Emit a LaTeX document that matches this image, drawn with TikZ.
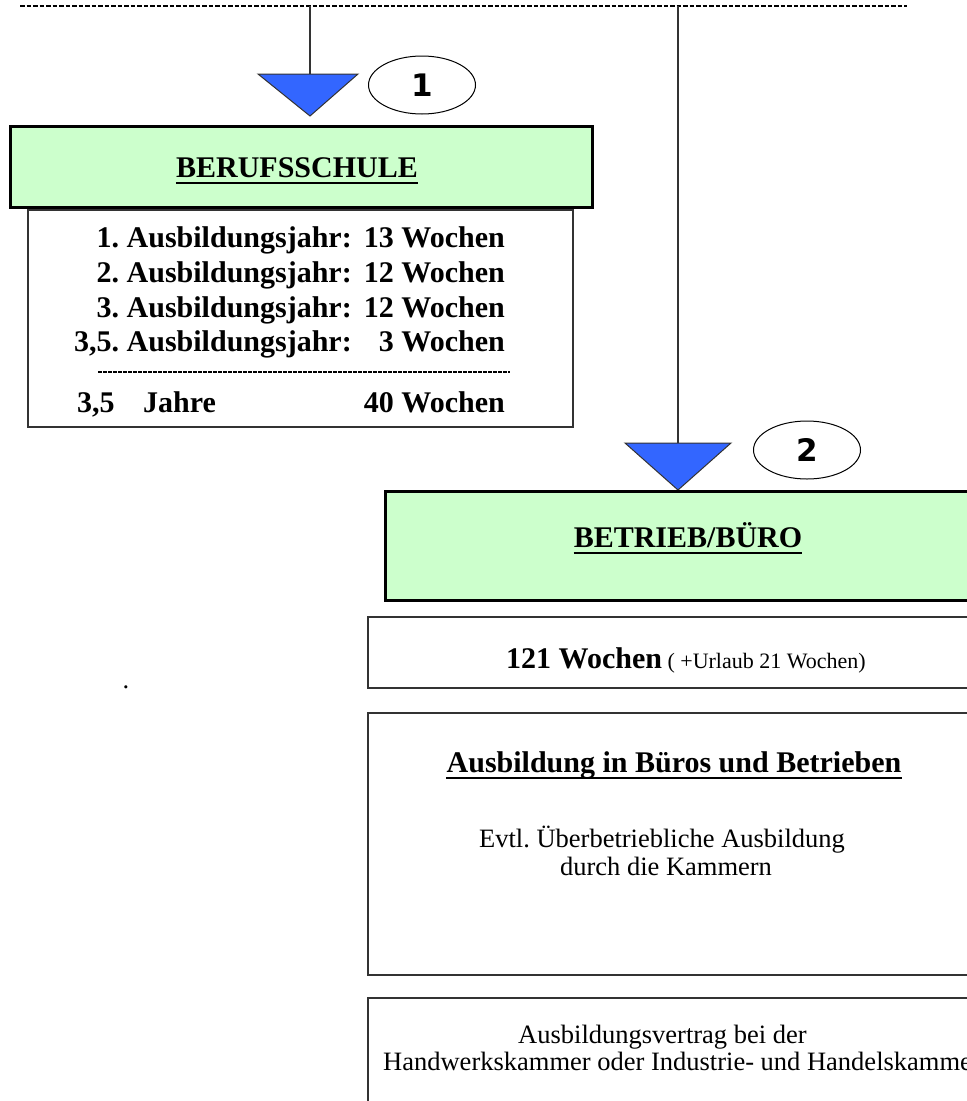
\documentclass[tikz,border=0pt]{standalone}
\usepackage{fontspec}
\setmainfont{Liberation Serif}
\newfontfamily\numfont{DejaVu Sans}
\usetikzlibrary{shapes.geometric}
\definecolor{boxgreen}{HTML}{CCFFCC}
\definecolor{triblue}{HTML}{3366FF}
\definecolor{linegray}{HTML}{333333}
\begin{document}
\frenchspacing
\begin{tikzpicture}[x=1pt,y=-1pt,
  bigb/.style={font=\fontsize{30}{35}\selectfont\bfseries, inner sep=0pt},
  regtxt/.style={font=\fontsize{26.5}{30}\selectfont, inner sep=0pt},
  greenbox/.style={draw=black, line width=3pt, fill=boxgreen},
  whitebox/.style={draw=linegray, line width=1.5pt},
  tri/.style={fill=triblue, draw=linegray, line width=1pt},
  numell/.style={draw=black, line width=1pt, ellipse, minimum width=107pt, minimum height=58pt, inner sep=0pt, font=\fontsize{31}{33}\selectfont\numfont\bfseries},
  conn/.style={draw=linegray, line width=1.5pt},
  ul/.style={line width=1.5pt}]
\useasboundingbox (0,0) rectangle (967,1101);
\clip (0,0) rectangle (967,1101);

% top dashed line
\coordinate (dl) at (20,6);
\coordinate (dr) at (907,6);
\draw[line width=2.8pt, dash pattern=on 4.5pt off 2pt] (dl) -- (dr);

% triangles
\coordinate (s1) at (310,6);
\coordinate (t1) at (310,74);
\fill[tri] (258,74) -- (358,74) -- (310,116) -- cycle;
\draw[conn] (s1) -- (t1);
\node[numell] (e1) at (422,85) {1};

\coordinate (s2) at (678,6);
\coordinate (t2) at (678,443);
\fill[tri] (625,443) -- (731,443) -- (678,490) -- cycle;
\draw[conn] (s2) -- (t2);
\node[numell] (e2) at (807,450) {2};

% BERUFSSCHULE
\draw[greenbox] (10,126) rectangle (592,207);
\node[bigb, anchor=base] (bs) at (297,177) {BERUFSSCHULE};
\draw[ul] ([yshift=-6pt]bs.base west) -- ([yshift=-6pt]bs.base east);

\draw[whitebox] (28,210) rectangle (573,427);
\node[bigb, anchor=base east] (l1a) at (352,247) {1. Ausbildungsjahr:};
\node[bigb, anchor=base east] (l1b) at (505,247) {13 Wochen};
\node[bigb, anchor=base east] (l2a) at (352,282) {2. Ausbildungsjahr:};
\node[bigb, anchor=base east] (l2b) at (505,282) {12 Wochen};
\node[bigb, anchor=base east] (l3a) at (352,317) {3. Ausbildungsjahr:};
\node[bigb, anchor=base east] (l3b) at (505,317) {12 Wochen};
\node[bigb, anchor=base east] (l4a) at (352,351) {3,5. Ausbildungsjahr:};
\node[bigb, anchor=base east] (l4b) at (505,351) {3 Wochen};
\draw[line width=1.4pt, dash pattern=on 3.5pt off 1.5pt] (98,372) -- (510,372);
\node[bigb, anchor=base west] (l5a) at (77,412) {3,5};
\node[bigb, anchor=base west] (l5b) at (143,412) {Jahre};
\node[bigb, anchor=base east] (l5c) at (505,412) {40 Wochen};

% BETRIEB/BUERO
\draw[greenbox] (385,491) rectangle (990,600);
\node[bigb, anchor=base] (bb) at (688,547) {BETRIEB/BÜRO};
\draw[ul] ([yshift=-6pt]bb.base west) -- ([yshift=-6pt]bb.base east);

\draw[whitebox] (368,617) rectangle (990,688);
\node[bigb, anchor=base west] (w121) at (506,668) {121 Wochen\fontsize{22}{26}\selectfont\mdseries\ ( +Urlaub 21 Wochen)};

\draw[whitebox] (368,713) rectangle (990,975);
\node[bigb, anchor=base] (ab) at (674,772) {Ausbildung in Büros und Betrieben};
\draw[ul] ([yshift=-6pt]ab.base west) -- ([yshift=-6pt]ab.base east);
\node[regtxt, anchor=base] (ev1) at (662,847) {Evtl. Überbetriebliche Ausbildung};
\node[regtxt, anchor=base] (ev2) at (666,875) {durch die Kammern};

\draw[whitebox] (368,998) rectangle (990,1120);
\node[regtxt, anchor=base west] (av1) at (518,1043) {Ausbildungsvertrag bei der};
\node[regtxt, anchor=base west] (av2) at (383,1070) {Handwerkskammer oder Industrie- und Handelskammer};

% stray dot
\node[regtxt, anchor=base] (dot) at (126,688) {.};
\end{tikzpicture}
\end{document}
